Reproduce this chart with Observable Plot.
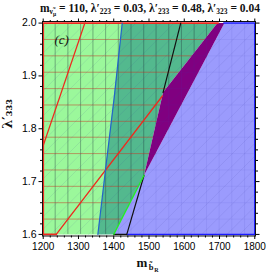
<!DOCTYPE html>
<html><head><meta charset="utf-8">
<script src="https://cdn.jsdelivr.net/npm/d3@7"></script>
<script src="https://cdn.jsdelivr.net/npm/@observablehq/plot@0.6"></script>
<style>
body{margin:0;background:#fff;}
#wrap{position:relative;width:266px;height:276px;overflow:hidden;background:#fff}
#title{height:17px;width:266px;font:bold 11.5px "Liberation Serif",serif;white-space:nowrap;text-align:center;padding-left:34px;box-sizing:border-box;line-height:16px;color:#111}
#title sub{font-size:7.5px;vertical-align:-2px;line-height:0}
#title sub sub{font-size:5.5px;vertical-align:-1.5px}
</style></head><body><div id="wrap"><div id="title">m<sub>ν̃<sub>μ</sub></sub> = 110, λ′<sub>223</sub> = 0.03, λ′<sub>233</sub> = 0.48, λ′<sub>323</sub> = 0.04</div><div id="chart"></div></div>
<script>
// axis ranges and ticks
const xRange = [1200, 1800];
const yRange = [1.6, 2.0];
const xMajor = [1200, 1300, 1400, 1500, 1600, 1700, 1800];
const xMinor = [1220,1240,1260,1280,1320,1340,1360,1380,1420,1440,1460,1480,1520,1540,1560,1580,1620,1640,1660,1680,1720,1740,1760,1780];
const yMajor = [1.6, 1.7, 1.8, 1.9, 2.0];
const yMinor = [1.62,1.64,1.66,1.68,1.72,1.74,1.76,1.78,1.82,1.84,1.86,1.88,1.92,1.94,1.96,1.98];

// regions: [m_bR, lambda'_333]
const lightGreenRegion = [[1200,1.6],[1200,2.0],[1424,2.0],[1355,1.6]];
const tealRegion = [[1355,1.6],[1424,2.0],[1694,2.0],[1540,1.869],[1486,1.712],[1400,1.6]];
const purpleRegion = [[1694,2.0],[1714,2.0],[1486,1.712],[1540,1.869]];
const blueRegion = [[1714,2.0],[1800,2.0],[1800,1.6],[1400,1.6],[1486,1.712]];

// boundary curves
const redEdge = [[1237,1.6],[1200,1.6],[1200,2.0],[1696,2.0]];
const redLineUpper = [[1318,2.0],[1200,1.768]];
const redLineLower = [[1237,1.6],[1538,1.862]];
const blueLine = [[1355,1.6],[1378,1.73],[1401,1.857],[1424,2.0]];
const blueEdge = [[1437,1.6],[1800,1.6],[1800,2.0],[1712,2.0]];
const blackLineLow = [[1400,1.6],[1437,1.6],[1486,1.712]];
const blackLineHigh = [[1540,1.869],[1590,2.0]];
const greenLine = [[1400,1.6],[1486,1.712]];

// mesh lines
const meshX = [1234,1270,1306,1341,1377,1413,1449,1485,1520,1556,1592,1628,1663,1699,1735,1771];
const meshY = [1.629,1.660,1.691,1.722,1.753,1.784,1.814,1.845,1.876,1.907,1.938,1.969];
const diagStarts = [613,649,685,720,756,792,828,863,899,935,971,1006,1042,1078,1113,1149,1185,1221,1256,1292,1328,1364,1399,1435,1471,1507,1542,1578,1614,1650,1685,1721,1757,1793];

// diagonal mesh segments (45° on screen), clipped to the plotting range
const slope = (yRange[1]-yRange[0])/(xRange[1]-xRange[0]);
const diag = [];
diagStarts.forEach((x0,i)=>{
  const xa = Math.max(x0, xRange[0]);
  const xb = Math.min(x0 + (xRange[1]-xRange[0]), xRange[1]);
  if (xb > xa) {
    diag.push({i, x: xa, y: yRange[0] + (xa-x0)*slope});
    diag.push({i, x: xb, y: yRange[0] + (xb-x0)*slope});
  }
});

const px = d => d[0], py = d => d[1];
const poly = (data, fill) => Plot.line(data, {x: px, y: py, fill, stroke: "none", curve: "linear-closed"});
const edge = (data, stroke, w) => Plot.line(data, {x: px, y: py, stroke, strokeWidth: w});
const none = () => "";

const chart = Plot.plot({
  width: 266, height: 259,
  marginLeft: 42, marginRight: 11, marginTop: 4, marginBottom: 40.5,
  x: {domain: [1198, 1802]},
  y: {domain: [1.597, 2.003]},
  style: {fontFamily: "'Liberation Sans', Arial, sans-serif", fontSize: "10.5px", background: "white"},
  marks: [
    poly(lightGreenRegion, "#9bf89b"),
    poly(tealRegion, "#53b98e"),
    Plot.ruleX(meshX, {y1: yRange[0], y2: yRange[1], stroke: "#1a3a1a", strokeOpacity: 0.35, strokeWidth: 0.9}),
    Plot.ruleY(meshY, {x1: xRange[0], x2: xRange[1], stroke: "#e03a10", strokeOpacity: 0.5, strokeWidth: 0.9}),
    poly(blueRegion, "#9b9bfd"),
    poly(purpleRegion, "#800080"),
    Plot.ruleX(meshX, {y1: yRange[0], y2: yRange[1], stroke: "#4040b0", strokeOpacity: 0.12, strokeWidth: 0.8}),
    Plot.ruleY(meshY, {x1: xRange[0], x2: xRange[1], stroke: "#4040b0", strokeOpacity: 0.1, strokeWidth: 0.8}),
    Plot.line(diag, {x: "x", y: "y", z: "i", stroke: "#3a3aa0", strokeOpacity: 0.13, strokeWidth: 0.8}),
    edge(redEdge, "#ee2a1e", 1.8),
    edge(redLineUpper, "#ee2a1e", 1.3),
    edge(redLineLower, "#ee2a1e", 1.3),
    edge(blueLine, "#2266c8", 1.2),
    edge(blueEdge, "#1a1aff", 1.5),
    edge(blackLineLow, "#111", 1.2),
    edge(blackLineHigh, "#111", 1.2),
    edge(greenLine, "#22ee22", 1.3),
    Plot.frame({stroke: "#111", strokeWidth: 1}),
    Plot.axisX(xMajor, {anchor: "bottom", tickSize: 3.5, tickPadding: 3, tickFormat: d => String(d), fontSize: 10, label: null}),
    Plot.axisX(xMinor, {anchor: "bottom", tickSize: 2, tickFormat: none, label: null}),
    Plot.axisX(xMajor, {anchor: "top", tickSize: 3.5, tickFormat: none, label: null}),
    Plot.axisX(xMinor, {anchor: "top", tickSize: 2, tickFormat: none, label: null}),
    Plot.axisY(yMajor, {anchor: "left", tickSize: 3.5, tickPadding: 2.5, tickFormat: d3.format(".1f"), label: null}),
    Plot.axisY(yMinor, {anchor: "left", tickSize: 2, tickFormat: none, label: null}),
    Plot.axisY(yMajor, {anchor: "right", tickSize: 3.5, tickFormat: none, label: null}),
    Plot.axisY(yMinor, {anchor: "right", tickSize: 2, tickFormat: none, label: null}),
    Plot.text(["(c)"], {frameAnchor: "top-left", dx: 12, dy: 13, fontSize: 13, fontStyle: "italic", fontFamily: "'Liberation Serif', serif", fill: "#111"}),
    Plot.text(["λ′₃₃₃"], {frameAnchor: "left", rotate: -90, dx: -35, fontSize: 13, fontWeight: "bold", fontFamily: "'DejaVu Serif', serif", fill: "#111"}),
    Plot.text(["m"], {frameAnchor: "bottom", dx: -7, dy: 31, fontSize: 13, fontWeight: "bold", fontFamily: "'Liberation Serif', serif", fill: "#111"}),
    Plot.text(["b̃"], {frameAnchor: "bottom", dx: 2, dy: 34, fontSize: 8.5, fontWeight: "bold", fontFamily: "'Liberation Serif', serif", fill: "#111"}),
    Plot.text(["R"], {frameAnchor: "bottom", dx: 7.5, dy: 36, fontSize: 6, fontWeight: "bold", fontFamily: "'Liberation Serif', serif", fill: "#111"})
  ]
});
document.getElementById("chart").appendChild(chart);
</script>
</body></html>
